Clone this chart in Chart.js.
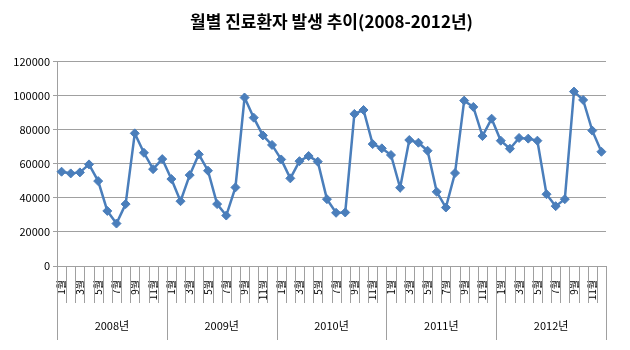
<!DOCTYPE html>
<html>
<head>
<meta charset="utf-8">
<script src="https://cdn.jsdelivr.net/npm/chart.js@4.4.0/dist/chart.umd.min.js"></script>
<style>
  html, body { margin: 0; padding: 0; background: #fff; }
  #wrap { width: 630px; height: 350px; }
</style>
</head>
<body>
<div id="wrap"><canvas id="mainChart"></canvas></div>
<script>
// ========== 월별 진료환자 발생 추이 ==========

const years = ['2008년', '2009년', '2010년', '2011년', '2012년'];
const months = ['1월', '2월', '3월', '4월', '5월', '6월', '7월', '8월', '9월', '10월', '11월', '12월'];

// 연도별 월 진료환자 수
const v2008 = [55300, 54300, 54900, 59600, 49800, 32300, 24900, 36300, 77800, 66400, 56800, 62700];
const v2009 = [51000, 38000, 53300, 65500, 55900, 36300, 29600, 46100, 98800, 87000, 76600, 71000];
const v2010 = [62500, 51400, 61500, 64500, 61200, 39200, 31200, 31400, 89200, 91500, 71500, 69000];
const v2011 = [65100, 45900, 73900, 72300, 67600, 43500, 34300, 54500, 97000, 93300, 76200, 86400];
const v2012 = [73500, 68800, 75100, 74700, 73500, 42100, 35100, 39200, 102300, 97400, 79400, 67000];

const yTicks = [0, 20000, 40000, 60000, 80000, 100000, 120000];

const LINE_COLOR = '#4a7ebb';
const AXIS_COLOR = '#a0a0a0';
const FONT = '"Noto Sans CJK KR", "Noto Sans", sans-serif';

// 라벨 / 값 펼치기
const labels = [];
years.forEach(y => months.forEach(m => labels.push(y + ' ' + m)));
const values = [].concat(v2008, v2009, v2010, v2011, v2012);

// x축 눈금선, 연도 구분선, 연도 라벨
const yearAxisPlugin = {
    id: 'yearAxis',
    afterDraw(chart) {
        const xs = chart.scales.x;
        const ctx = chart.ctx;
        const top = chart.chartArea.bottom;
        const half = (xs.getPixelForValue(1) - xs.getPixelForValue(0)) / 2;

        ctx.save();
        ctx.strokeStyle = AXIS_COLOR;
        ctx.lineWidth = 1;
        for (let i = 0; i <= labels.length; i++) {
            const x = i === labels.length
                ? xs.getPixelForValue(i - 1) + half
                : xs.getPixelForValue(i) - half;
            const len = i % 12 === 0 ? 74 : 37;
            ctx.beginPath();
            ctx.moveTo(Math.round(x) + 0.5, top);
            ctx.lineTo(Math.round(x) + 0.5, top + len);
            ctx.stroke();
        }

        ctx.fillStyle = '#000';
        ctx.font = '11px ' + FONT;
        ctx.textAlign = 'center';
        ctx.textBaseline = 'middle';
        for (let k = 0; k < years.length; k++) {
            const cx = (xs.getPixelForValue(k * 12) + xs.getPixelForValue(k * 12 + 11)) / 2;
            ctx.fillText(years[k], cx, top + 60);
        }
        ctx.restore();
    }
};

const ctx = document.getElementById('mainChart');
new Chart(ctx, {
    type: 'line',
    data: {
        labels: labels,
        datasets: [{
            label: '진료환자',
            data: values,
            borderColor: LINE_COLOR,
            backgroundColor: LINE_COLOR,
            borderWidth: 2.5,
            pointStyle: 'rectRot',
            pointRadius: 4.5,
            pointBackgroundColor: LINE_COLOR,
            pointBorderColor: LINE_COLOR,
            pointBorderWidth: 1,
            tension: 0
        }]
    },
    options: {
        responsive: true,
        maintainAspectRatio: false,
        animation: false,
        layout: { padding: { left: 0, right: 24, top: 0, bottom: 0 } },
        plugins: {
            legend: { display: false },
            tooltip: { enabled: false },
            title: {
                display: true,
                text: '월별 진료환자 발생 추이(2008-2012년)',
                fullSize: false,
                color: '#000',
                font: { family: FONT, size: 17, weight: 'bold' },
                padding: { top: 11, bottom: 30 }
            }
        },
        scales: {
            x: {
                offset: true,
                grid: { display: false },
                border: { display: true, color: AXIS_COLOR, width: 1 },
                ticks: {
                    autoSkip: false,
                    minRotation: 90,
                    maxRotation: 90,
                    padding: 6,
                    color: '#000',
                    font: { family: FONT, size: 10 },
                    callback: (value, index) => index % 2 === 0 ? months[index % 12] : ''
                },
                afterFit: (scale) => { scale.height = 84; }
            },
            y: {
                min: 0,
                max: 120000,
                afterBuildTicks: (scale) => { scale.ticks = yTicks.map(v => ({ value: v })); },
                grid: { color: AXIS_COLOR, lineWidth: 1, tickLength: 4 },
                border: { display: true, color: AXIS_COLOR, width: 1 },
                ticks: {
                    color: '#000',
                    padding: 3,
                    font: { family: FONT, size: 11 },
                    callback: (value) => String(value)
                },
                afterFit: (scale) => { scale.width = 57; }
            }
        }
    },
    plugins: [yearAxisPlugin]
});
</script>
</body>
</html>
